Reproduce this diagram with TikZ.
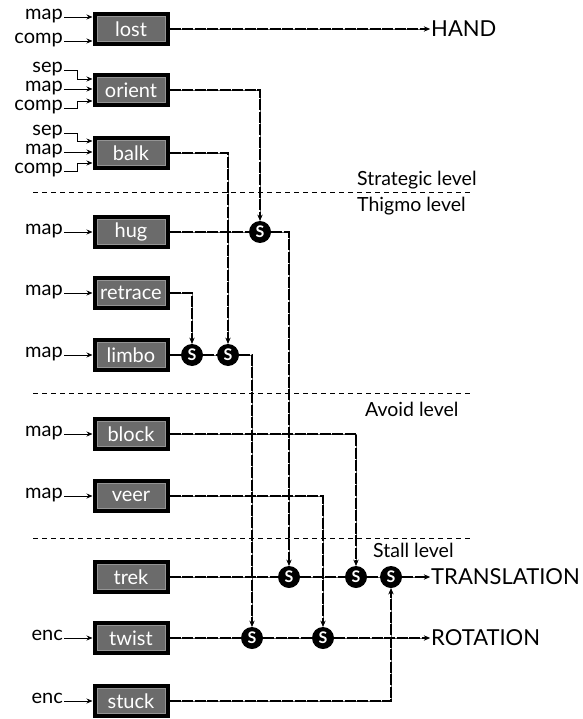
\documentclass[tikz,border=0pt]{standalone}
\usepackage{fontspec}
\setmainfont{Lato}
\usepackage{tikz}
\usetikzlibrary{arrows.meta,positioning,calc}

\begin{document}
\begin{tikzpicture}[
    x=1pt,y=-1pt,
    every node/.style={font=\fontsize{20}{22}\selectfont},
    beh/.style   ={rectangle,draw=black,line width=4pt,fill=black!58,
                   text=white,minimum width=73pt,minimum height=30pt,
                   inner sep=1pt,
                   path picture={\draw[black!42,line width=0.8pt]
                     ([shift={(2.6pt,-2.6pt)}]path picture bounding box.north west)
                     rectangle
                     ([shift={(-2.6pt,2.6pt)}]path picture bounding box.south east);}},
    supp/.style  ={circle,fill=black,text=white,minimum size=22pt,
                   inner sep=0pt,font=\fontsize{16}{16}\selectfont\bfseries},
    inp/.style   ={anchor=east,inner sep=1pt,text height=1ex,text depth=0pt},
    outp/.style  ={anchor=west,inner sep=1pt,font=\fontsize{22}{24}\selectfont},
    lvl/.style   ={anchor=west,inner sep=1pt,font=\fontsize{19.5}{21}\selectfont},
    tip/.style   ={-{Stealth[length=6pt,width=5pt]}},
    arr/.style   ={tip,black,line width=0.9pt},
    wire/.style  ={draw=black,line width=1.2pt,dash pattern=on 11pt off 1.5pt,
                   preaction={draw=black!60,solid}},
    divider/.style={black,line width=0.9pt,dash pattern=on 5pt off 4pt},
  ]
  \useasboundingbox (0,0) rectangle (582,719);

  % level dividers
  \draw[divider] (33,192) -- (470,192);
  \draw[divider] (33,393) -- (470,393);
  \draw[divider] (33,538) -- (470,538);
  \node[lvl] (strat)  at (356,180) {Strategic level};
  \node[lvl] (thigmo) at (356,206) {Thigmo level};
  \node[lvl] (avoid)  at (364,409) {Avoid level};
  \node[lvl] (stall)  at (372,550) {Stall level};

  % behaviours
  \node[beh] (lost)    at (131, 29) {lost};
  \node[beh] (orient)  at (131, 90) {orient};
  \node[beh] (balk)    at (131,153) {balk};
  \node[beh] (hug)     at (131,232) {hug};
  \node[beh] (retrace) at (131,293) {retrace};
  \node[beh] (limbo)   at (131,355) {limbo};
  \node[beh] (block)   at (131,434) {block};
  \node[beh] (veer)    at (131,496) {veer};
  \node[beh] (trek)    at (131,577) {trek};
  \node[beh] (twist)   at (131,638) {twist};
  \node[beh] (stuck)   at (131,701) {stuck};

  % suppressors
  \node[supp] (sOrient)  at (260,232) {S};
  \node[supp] (sRetrace) at (192,355) {S};
  \node[supp] (sBalk)    at (228,355) {S};
  \node[supp] (sHug)     at (289,577) {S};
  \node[supp] (sBlock)   at (356,577) {S};
  \node[supp] (sStuck)   at (391,577) {S};
  \node[supp] (sLimbo)   at (252,638) {S};
  \node[supp] (sVeer)    at (323,638) {S};

  % outputs
  \node[outp] (hand)  at (430, 29) {HAND};
  \node[outp] (trans) at (430,577) {TRANSLATION};
  \node[outp] (rot)   at (430,638) {ROTATION};

  % sensor inputs
  \node[inp] (lostMap)     at (64, 17) {map};
  \node[inp] (lostComp)    at (64, 41) {comp};
  \node[inp] (orientSep)   at (64, 70) {sep};
  \node[inp] (orientMap)   at (64, 89) {map};
  \node[inp] (orientComp)  at (64,108) {comp};
  \node[inp] (balkSep)     at (64,133) {sep};
  \node[inp] (balkMap)     at (64,152) {map};
  \node[inp] (balkComp)    at (64,171) {comp};
  \node[inp] (hugMap)      at (64,232) {map};
  \node[inp] (retraceMap)  at (64,293) {map};
  \node[inp] (limboMap)    at (64,355) {map};
  \node[inp] (blockMap)    at (64,434) {map};
  \node[inp] (veerMap)     at (64,496) {map};
  \node[inp] (twistEnc)    at (64,638) {enc};
  \node[inp] (stuckEnc)    at (64,701) {enc};

  \draw[arr] (lostMap)  -- (lostMap -| lost.west);
  \draw[arr] (lostComp) -- (lostComp -| lost.west);
  \draw[arr] (orientSep.east) -- ++(13,0) |- ([yshift=11pt]orient.west);
  \draw[arr] (orientMap) -- (orientMap -| orient.west);
  \draw[arr] (orientComp.east) -- ++(13,0) |- ([yshift=-11pt]orient.west);
  \draw[arr] (balkSep.east) -- ++(13,0) |- ([yshift=12pt]balk.west);
  \draw[arr] (balkMap) -- (balkMap -| balk.west);
  \draw[arr] (balkComp.east) -- ++(13,0) |- ([yshift=-10pt]balk.west);
  \draw[arr] (hugMap) -- (hug);
  \draw[arr] (retraceMap) -- (retrace);
  \draw[arr] (limboMap) -- (limbo);
  \draw[arr] (blockMap) -- (block);
  \draw[arr] (veerMap) -- (veer);
  \draw[arr] (twistEnc) -- (twist);
  \draw[arr] (stuckEnc) -- (stuck);

  % strategic level
  \draw[wire,tip] (lost) -- (hand);
  \draw[wire,tip] (orient) -| (sOrient);
  \draw[wire,tip] (balk) -| (sBalk);

  % thigmo level
  \draw[wire] (hug) -- (sOrient);
  \draw[wire,tip] (sOrient) -| (sHug);
  \draw[wire,tip] (retrace) -| (sRetrace);
  \draw[wire] (limbo) -- (sRetrace);
  \draw[wire] (sRetrace) -- (sBalk);
  \draw[wire,tip] (sBalk) -| (sLimbo);

  % avoid level
  \draw[wire,tip] (block) -| (sBlock);
  \draw[wire,tip] (veer) -| (sVeer);

  % stall level
  \draw[wire] (trek) -- (sHug);
  \draw[wire] (sHug) -- (sBlock);
  \draw[wire] (sBlock) -- (sStuck);
  \draw[wire,tip] (sStuck) -- (trans);
  \draw[wire] (twist) -- (sLimbo);
  \draw[wire] (sLimbo) -- (sVeer);
  \draw[wire,tip] (sVeer) -- (rot);
  \draw[wire,tip] (stuck) -| (sStuck);
\end{tikzpicture}
\end{document}
